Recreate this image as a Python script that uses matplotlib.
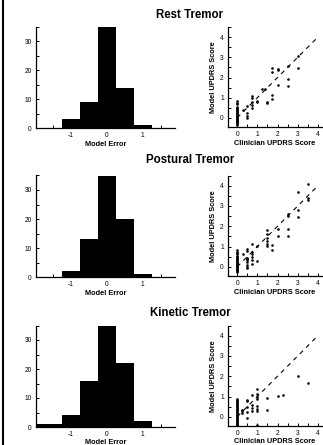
import matplotlib
matplotlib.use("Agg")
import matplotlib.pyplot as plt
import numpy as np
from matplotlib.lines import Line2D
from matplotlib.ticker import MultipleLocator

plt.rcParams['font.family'] = ['Liberation Sans', 'DejaVu Sans']
plt.rcParams['axes.unicode_minus'] = False

W, H = 323, 445
titles = ["Rest Tremor", "Postural Tremor", "Kinetic Tremor"]

# histogram bin edges (width 0.5) and counts
bin_edges = [-2.25, -1.75, -1.25, -0.75, -0.25, 0.25, 0.75, 1.25, 1.75]
rest_counts = [0, 0, 3, 9, 35, 14, 1, 0]
postural_counts = [0, 0, 2, 13, 35, 20, 1, 0]
kinetic_counts = [1, 1, 4, 16, 35, 22, 2, 0]

# scatter: clinician score (x) vs model score (y)
rest_x = [0]*25 + [0.3, 0.5, 0.5, 0.5, 0.5, 0.75, 0.75, 0.75, 0.75, 0.75,
                   1, 1, 1.25, 1.4, 1.5, 1.5, 1.75, 1.75, 1.75, 1.75, 2, 2, 2,
                   2.5, 2.5, 2.5, 3, 3]
rest_y = [0.83, 0.75, 0.68, 0.55, 0.5, 0.45, 0.4, 0.35, 0.3, 0.25, 0.2, 0.15,
          0.1, 0.07, 0.03, 0.0, -0.03, -0.07, -0.1, -0.13, -0.17, -0.2, -0.25,
          -0.3, -0.33,
          0.37, 0.57, 0.25, 0.1, 0.0, 1.08, 1.0, 0.78, 0.62, 0.5,
          0.85, 0.77, 1.45, 1.43, 0.8, 0.75, 2.45, 2.27, 1.12, 0.95, 2.4, 2.35, 1.65,
          2.58, 1.92, 1.57, 3.05, 2.48]

postural_x = [0]*24 + [0.3, 0.5, 0.5, 0.5, 0.5, 0.5, 0.5, 0.5, 0.5, 0.5,
                       0.75, 0.75, 0.75, 0.75, 0.75, 0.75, 1, 1,
                       1.5, 1.5, 1.5, 1.5, 1.5, 1.5, 1.75, 1.75, 2, 2,
                       2.5, 2.5, 2.5, 2.5, 3, 3, 3, 3.5, 3.5, 3.5]
postural_y = [0.83, 0.75, 0.7, 0.62, 0.55, 0.5, 0.45, 0.4, 0.35, 0.3, 0.25,
              0.2, 0.15, 0.1, 0.07, 0.03, 0.0, -0.03, -0.07, -0.1, -0.13, -0.17,
              -0.2, -0.23,
              0.65, 0.9, 0.8, 0.45, 0.38, 0.32, 0.22, 0.1, 0.0, -0.08,
              1.15, 0.75, 0.62, 0.5, 0.32, 0.15, 1.05, 0.3,
              1.8, 1.63, 1.42, 1.27, 1.15, 1.03, 1.06, 0.85, 1.85, 1.53,
              2.58, 2.5, 1.88, 1.52, 3.7, 2.8, 2.48, 4.08, 3.38, 3.3]

kinetic_x = [0]*30 + [0.25, 0.25, 0.25, 0.5, 0.5, 0.5, 0.5, 0.5,
                      0.75, 0.75, 0.75, 0.75,
                      1, 1, 1, 1, 1, 1, 1, 1,
                      1.5, 1.5, 2, 2.25, 3, 3.5]
kinetic_y = [0.88, 0.83, 0.78, 0.72, 0.67, 0.62, 0.57, 0.52, 0.47, 0.42,
             0.37, 0.32, 0.27, 0.22, 0.17, 0.12, 0.07, 0.03, 0.0, -0.05,
             -0.1, -0.15, -0.2, -0.25, -0.3, -0.35, -0.4, -0.45, -0.48, -0.5,
             0.35, 0.27, 0.2, 0.85, 0.77, 0.5, 0.23, -0.05,
             1.07, 0.6, 0.45, 0.3,
             1.35, 1.15, 1.0, 0.9, 0.52, 0.4, 0.28, -0.4,
             0.93, 0.35, 1.04, 1.1, 2.03, 1.67]

hist_counts = [rest_counts, postural_counts, kinetic_counts]
sc_x = [rest_x, postural_x, kinetic_x]
sc_y = [rest_y, postural_y, kinetic_y]

fig = plt.figure(figsize=(W/100, H/100), dpi=100)

def ax_px(l, r, t, b):
    return fig.add_axes([l/W, 1 - b/H, (r-l)/W, (b-t)/H])

row_tops = [27, 175.5, 325.5]
row_bots = [128, 277, 427]
title_y = [15, 160, 313]

def style(ax):
    for s in ['top', 'right']:
        ax.spines[s].set_visible(False)
    for s in ['left', 'bottom']:
        ax.spines[s].set_linewidth(0.9)
    ax.tick_params(which='both', direction='in', labelsize=4.8, width=0.7, pad=3)
    ax.tick_params(which='major', length=2.5)
    ax.tick_params(which='minor', length=2)

for i in range(3):
    t, b = row_tops[i], row_bots[i]
    lp = 1.5 if i < 2 else 0.6
    # histogram
    ah = ax_px(36, 175, t, b)
    edges = np.array(bin_edges)
    ah.bar(edges[:-1], hist_counts[i], width=np.diff(edges), align='edge',
           color='black', edgecolor='black', linewidth=0)
    ah.set_xlim(-1.98, 1.9)
    ah.set_ylim(0, 35)
    ah.set_xticks([-1, 0, 1])
    ah.xaxis.set_minor_locator(MultipleLocator(0.5))
    ah.set_yticks([0, 10, 20, 30])
    ah.yaxis.set_minor_locator(MultipleLocator(5))
    style(ah)
    ah.set_xlabel("Model Error", fontsize=5.3, fontweight='bold', labelpad=lp)

    # scatter
    asc = ax_px(228, 322, t, b - 1)
    asc.plot([0, 4], [0, 4], color='black', linestyle=(0, (4, 4)), linewidth=0.8)
    asc.scatter(sc_x[i], sc_y[i], s=3.5, color='black', linewidths=0, zorder=3)
    asc.set_xlim(-0.45, 4.2)
    asc.set_ylim(-0.45, 4.5)
    asc.set_xticks([0, 1, 2, 3, 4])
    asc.set_yticks([0, 1, 2, 3, 4])
    asc.xaxis.set_minor_locator(MultipleLocator(0.5))
    asc.yaxis.set_minor_locator(MultipleLocator(0.5))
    style(asc)
    asc.set_xlabel("Clinician UPDRS Score", fontsize=5.3, fontweight='bold', labelpad=lp)
    asc.set_ylabel("Model UPDRS Score", fontsize=5.3, fontweight='bold', labelpad=2)

    fig.text(190/W, 1 - title_y[i]/H, titles[i], ha='center', va='center',
             fontsize=8.3, fontweight='bold')

fig.add_artist(Line2D([3/W, 3/W], [0, 1], color='black', linewidth=1.5,
                      transform=fig.transFigure))

fig.savefig("out.png", dpi=100)
